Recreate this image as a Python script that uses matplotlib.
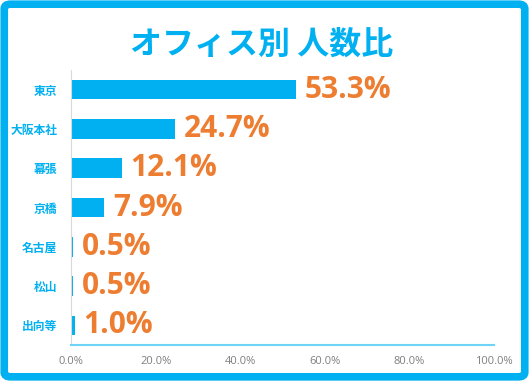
import matplotlib
matplotlib.use("Agg")
import matplotlib.pyplot as plt
from matplotlib.patches import FancyBboxPatch

plt.rcParams['font.family'] = ['Noto Sans CJK JP', 'DejaVu Sans']

categories = ['東京', '大阪本社', '幕張', '京橋', '名古屋', '松山', '出向等']
values = [53.3, 24.7, 12.1, 7.9, 0.5, 0.5, 1.0]
xticks = [0, 20, 40, 60, 80, 100]
xtick_labels = ['0.0%', '20.0%', '40.0%', '60.0%', '80.0%', '100.0%']
title = 'オフィス別 人数比'

BLUE = '#00B0F0'
ORANGE = '#ED7D31'

fig = plt.figure(figsize=(5.29, 3.81), dpi=100)
border = FancyBboxPatch((0.008, 0.011), 0.984, 0.978,
                        boxstyle="round,pad=0,rounding_size=0.012",
                        transform=fig.transFigure, facecolor='white',
                        edgecolor=BLUE, linewidth=5.5, zorder=-10)
fig.patches.append(border)

ax = fig.add_axes([71/529, 1 - 345/381, (494-71)/529, (345-70)/381])
ax.set_facecolor('none')
y = list(range(len(categories)))
ax.barh(y, values, height=0.5, color=BLUE)
for yi, v in zip(y, values):
    ax.annotate(f'{v:.1f}%', xy=(v, yi), xytext=(6, 0),
                textcoords='offset points', va='center', ha='left',
                color=ORANGE, fontsize=21.5, fontweight='bold',
                family=['Open Sans', 'DejaVu Sans'])
ax.set_ylim(len(categories) - 0.5, -0.5)
ax.set_xlim(0, 100)
ax.set_yticks(y)
ax.set_yticklabels(categories, color=BLUE, fontsize=8.5, fontweight='bold')
ax.set_xticks(xticks)
ax.set_xticklabels(xtick_labels, color='#7F7F7F', fontsize=8,
                   family=['Open Sans', 'DejaVu Sans'])
ax.tick_params(length=0, pad=10, axis='y')
ax.tick_params(length=0, pad=8, axis='x')
for s in ['top', 'right']:
    ax.spines[s].set_visible(False)
ax.spines['left'].set_color('#D9D9D9')
ax.spines['left'].set_linewidth(0.8)
ax.spines['bottom'].set_color('#6FD3F7')
ax.spines['bottom'].set_linewidth(1.5)

fig.text(262/529, 1 - 45/381, title, ha='center', va='center',
         color=BLUE, fontsize=23, fontweight='bold')

fig.savefig('out.png', dpi=100)
